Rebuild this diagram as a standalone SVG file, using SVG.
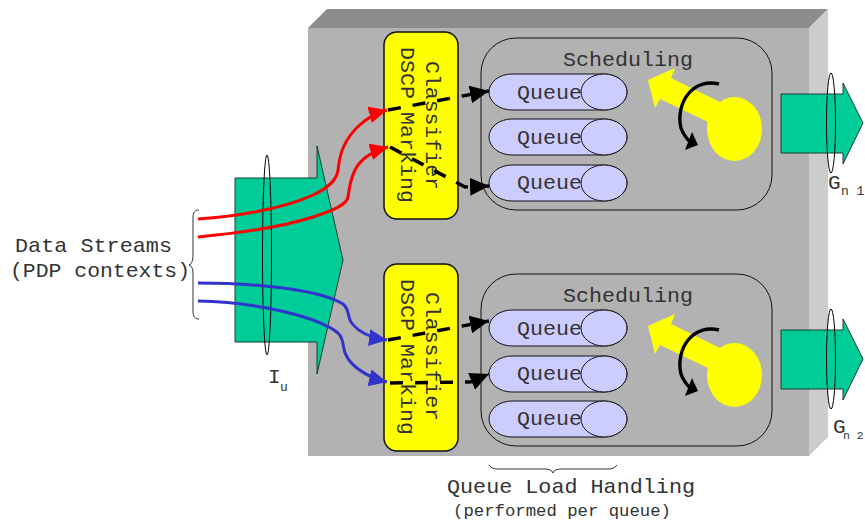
<svg xmlns="http://www.w3.org/2000/svg" width="865" height="521" viewBox="0 0 865 521">
<style>
text{font-family:"Liberation Mono",monospace;fill:#333}
.t{font-size:21px}
.s{font-size:17px}
.sub{font-size:13px}
.sub2{font-size:11.5px}
.ln{fill:none;stroke:#000;stroke-width:1}
.green{fill:#00cc99;stroke:#1c3d33;stroke-width:1}
.clf{fill:#ffff00;stroke:#111;stroke-width:1.5}
.pill{fill:#ccccff;stroke:#111;stroke-width:1}
.sch{fill:none;stroke:#111;stroke-width:1}
.y{fill:#ffff00}
.red{fill:none;stroke:#ff0000;stroke-width:3;marker-end:url(#ar)}
.blue{fill:none;stroke:#3333cc;stroke-width:3;marker-end:url(#ab)}
.dash{fill:none;stroke:#000;stroke-width:3.5;stroke-dasharray:13 12;marker-end:url(#ak)}
.rot{fill:none;stroke:#000;stroke-width:3.4}
</style>
<defs>
<marker id="ar" markerUnits="userSpaceOnUse" markerWidth="20" markerHeight="20" refX="18" refY="8.5" orient="auto"><path d="M0,0L18,8.5L0,17z" fill="#ff0000"/></marker>
<marker id="ab" markerUnits="userSpaceOnUse" markerWidth="20" markerHeight="20" refX="18" refY="8.5" orient="auto"><path d="M0,0L18,8.5L0,17z" fill="#3333cc"/></marker>
<marker id="ak" markerUnits="userSpaceOnUse" markerWidth="20" markerHeight="20" refX="19" refY="9" orient="auto"><path d="M0,0L19,9L0,18z" fill="#000"/></marker>
</defs>

<g id="platform">
<rect x="308" y="28" width="501" height="428" fill="#b2b2b2"/>
<polygon points="308,28 327,9 828,9 809,28" fill="#8c8c8c"/>
<polygon points="809,28 828,9 828,437 809,456" fill="#cccccc"/>
</g>

<g id="iu">
<polygon class="green" points="235,178 317,178 317,146 343,260 317,374 317,342 235,342"/>
<ellipse class="ln" cx="267" cy="255" rx="4.5" ry="100"/>
<text class="t" x="268" y="383">I</text><text class="sub" x="280" y="391">u</text>
</g>

<g id="classifier1">
<rect class="clf" x="384" y="32" width="74" height="187" rx="13"/>
<text class="t" transform="translate(426,61) rotate(90)" textLength="129" lengthAdjust="spacingAndGlyphs">Classifier</text>
<text class="t" transform="translate(401,47) rotate(90)" textLength="156" lengthAdjust="spacingAndGlyphs">DSCP Marking</text>
</g>
<g id="classifier2">
<rect class="clf" x="384" y="264" width="74" height="187" rx="13"/>
<text class="t" transform="translate(426,292) rotate(90)" textLength="129" lengthAdjust="spacingAndGlyphs">Classifier</text>
<text class="t" transform="translate(401,279) rotate(90)" textLength="156" lengthAdjust="spacingAndGlyphs">DSCP Marking</text>
</g>

<g id="scheduler1">
<rect class="sch" x="481" y="38" width="291" height="172" rx="35"/>
<text class="t" x="563" y="66" textLength="130" lengthAdjust="spacingAndGlyphs">Scheduling</text>
<ellipse class="y" cx="734.5" cy="129" rx="27.5" ry="32"/>
<polygon class="y" points="648,80 675,68 671,78 722,103 708,122 660,99 655,108"/>
<path class="rot" d="M719,84C707,81 696,85 689,93C681,102 678,116 681,128C683,134 686,138 691,143"/>
<polygon points="698,145 685,150 692,132"/>
</g>
<g id="queue1a"><rect class="pill" x="489" y="74" width="138" height="36" rx="23" ry="18"/><ellipse class="pill" cx="604" cy="92" rx="23" ry="18"/><text class="t" x="517" y="99" textLength="65" lengthAdjust="spacingAndGlyphs">Queue</text></g>
<g id="queue1b"><rect class="pill" x="489" y="119" width="138" height="36" rx="23" ry="18"/><ellipse class="pill" cx="604" cy="137" rx="23" ry="18"/><text class="t" x="517" y="144" textLength="65" lengthAdjust="spacingAndGlyphs">Queue</text></g>
<g id="queue1c"><rect class="pill" x="489" y="165" width="138" height="36" rx="23" ry="18"/><ellipse class="pill" cx="604" cy="183" rx="23" ry="18"/><text class="t" x="517" y="189" textLength="65" lengthAdjust="spacingAndGlyphs">Queue</text></g>

<g id="scheduler2">
<rect class="sch" x="481" y="274" width="291" height="172" rx="35"/>
<text class="t" x="563" y="302" textLength="130" lengthAdjust="spacingAndGlyphs">Scheduling</text>
<ellipse class="y" cx="734.5" cy="375" rx="27.5" ry="32"/>
<polygon class="y" points="648,326 675,314 671,324 722,349 708,368 660,345 655,354"/>
<path class="rot" d="M719,330C707,327 696,331 689,339C681,348 678,362 681,374C683,380 686,384 691,389"/>
<polygon points="698,391 685,396 692,378"/>
</g>
<g id="queue2a"><rect class="pill" x="489" y="310" width="138" height="36" rx="23" ry="18"/><ellipse class="pill" cx="604" cy="328" rx="23" ry="18"/><text class="t" x="517" y="335" textLength="65" lengthAdjust="spacingAndGlyphs">Queue</text></g>
<g id="queue2b"><rect class="pill" x="489" y="356" width="138" height="36" rx="23" ry="18"/><ellipse class="pill" cx="604" cy="374" rx="23" ry="18"/><text class="t" x="517" y="380" textLength="65" lengthAdjust="spacingAndGlyphs">Queue</text></g>
<g id="queue2c"><rect class="pill" x="489" y="401" width="138" height="36" rx="23" ry="18"/><ellipse class="pill" cx="604" cy="419" rx="23" ry="18"/><text class="t" x="517" y="425" textLength="65" lengthAdjust="spacingAndGlyphs">Queue</text></g>

<g id="gn1">
<polygon class="green" points="781,94 843,94 843,83 863,123 843,164 843,153 781,153"/>
<ellipse class="ln" cx="831" cy="123" rx="4.5" ry="50"/>
<text class="t" x="828" y="189">G</text><text class="sub" x="841" y="195">n 1</text>
</g>
<g id="gn2">
<polygon class="green" points="781,330 843,330 843,319 863,359 843,400 843,389 781,389"/>
<ellipse class="ln" cx="831" cy="359" rx="4.5" ry="50"/>
<text class="t" x="833" y="433">G</text><text class="sub2" x="843" y="439">n 2</text>
</g>

<g id="data-streams">
<text class="t" x="15" y="252" textLength="157" lengthAdjust="spacingAndGlyphs">Data Streams</text>
<text class="t" x="10" y="277" textLength="180" lengthAdjust="spacingAndGlyphs">(PDP contexts)</text>
<path class="ln" stroke-opacity=".8" d="M199,210C195,210 193,212 193,218L193,254C193,260 192,264 189,265C192,266 193,269 193,275L193,311C193,317 195,319 199,319"/>
</g>

<g id="queue-load">
<path class="ln" stroke-opacity=".8" d="M489,465C491,468 494,469 498,469L545,469C549,469 552,470 553,473C554,470 557,469 561,469L608,469C612,469 615,468 617,465"/>
<text class="t" x="447" y="493" textLength="248" lengthAdjust="spacingAndGlyphs">Queue Load Handling</text>
<text class="s" x="453" y="516" textLength="218" lengthAdjust="spacingAndGlyphs">(performed per queue)</text>
</g>

<g id="connectors">
<path class="dash" d="M388,110L489,91"/>
<path class="dash" d="M390,147L465,187L489,186"/>
<path class="dash" d="M388,340L489,321"/>
<path class="dash" d="M390,383L470,382L489,374"/>
<path class="red" d="M198,219C240,216 285,208 313,195C328,188 337,180 338,170C339,162 340,155 343,148C350,132 365,116 387,110"/>
<path class="red" d="M198,237C240,233 285,226 313,217C332,211 347,205 348,197C349,190 350,180 355,170C360,160 370,152 388,147"/>
<path class="blue" d="M198,283C260,283 320,290 343,304C350,310 347,316 351,322C358,332 372,338 387,340"/>
<path class="blue" d="M198,301C260,302 320,318 338,333C345,340 342,348 346,355C352,368 370,378 387,382"/>
</g>
</svg>
